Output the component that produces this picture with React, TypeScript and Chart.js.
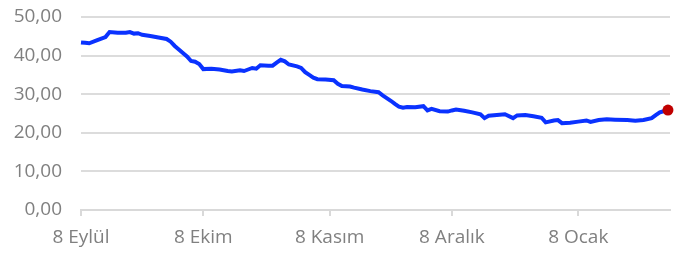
import React, { useEffect, useRef } from "react";
import { Chart, registerables } from "chart.js";

Chart.register(...registerables);

// days since 8 Eylül
const days = [0, 1, 2, 4, 6, 7, 9, 11, 12, 13, 14, 15, 17, 19, 21, 22, 23, 24, 25, 26, 27, 28, 29, 30, 32, 34, 36, 37, 39, 40, 41, 42, 43, 44, 46, 47, 48, 49, 50, 51, 53, 54, 55, 56, 57, 58, 60, 62, 63, 64, 66, 67, 69, 71, 73, 74, 75, 76, 77, 78, 79, 80, 82, 84, 85, 86, 88, 90, 91, 92, 94, 96, 98, 99, 100, 102, 104, 106, 107, 109, 111, 113, 114, 116, 117, 118, 120, 122, 124, 125, 127, 129, 131, 134, 136, 138, 140, 141, 142, 144];
const values = [43.4, 43.3, 43.2, 44.0, 44.8, 46.1, 45.9, 45.9, 46.1, 45.7, 45.8, 45.4, 45.1, 44.7, 44.3, 43.6, 42.5, 41.6, 40.7, 39.8, 38.6, 38.4, 37.8, 36.5, 36.6, 36.4, 36.0, 35.9, 36.2, 36.0, 36.4, 36.8, 36.6, 37.5, 37.4, 37.4, 38.2, 38.9, 38.5, 37.7, 37.2, 36.8, 35.7, 35.0, 34.3, 33.9, 33.8, 33.6, 32.7, 32.1, 32.0, 31.7, 31.2, 30.8, 30.5, 29.7, 29.0, 28.3, 27.5, 26.8, 26.5, 26.7, 26.6, 26.9, 25.8, 26.2, 25.6, 25.5, 25.8, 26.0, 25.7, 25.3, 24.8, 23.8, 24.4, 24.6, 24.8, 23.8, 24.5, 24.6, 24.3, 23.9, 22.7, 23.2, 23.3, 22.5, 22.6, 22.9, 23.2, 22.8, 23.3, 23.5, 23.4, 23.3, 23.1, 23.3, 23.8, 24.6, 25.3, 25.9];

const tickDays = [0, 30, 61, 91, 122];
const tickLabels = ["8 Eylül", "8 Ekim", "8 Kasım", "8 Aralık", "8 Ocak"];
const yTicks = [0, 10, 20, 30, 40, 50];

export default function App() {
  const ref = useRef<HTMLCanvasElement>(null);
  useEffect(() => {
    document.body.style.margin = "0";
    const last = days.length - 1;
    const chart = new Chart(ref.current!, {
      type: "line",
      data: {
        datasets: [
          {
            data: days.map((d, i) => ({ x: d, y: values[i] })),
            borderColor: "#0a32ff",
            borderWidth: 4,
            pointRadius: days.map((_, i) => (i === last ? 5.5 : 0)),
            pointBackgroundColor: "#c00000",
            pointBorderColor: "#c00000",
            pointBorderWidth: 0,
            tension: 0,
            clip: false,
          } as any,
        ],
      },
      options: {
        animation: false,
        responsive: false,
        maintainAspectRatio: false,
        layout: { padding: { top: 17, right: 21, left: 13, bottom: 0 } },
        plugins: { legend: { display: false }, tooltip: { enabled: false } },
        scales: {
          x: {
            type: "linear",
            min: 0,
            max: 144.5,
            afterBuildTicks: (axis: any) => {
              axis.ticks = tickDays.map((v) => ({ value: v }));
            },
            afterFit: (axis: any) => {
              axis.height = 43;
            },
            grid: {
              drawOnChartArea: false,
              drawTicks: true,
              tickLength: 6,
              color: "#d9d9d9",
              lineWidth: 2,
            },
            border: { color: "#d9d9d9", width: 2 },
            ticks: {
              autoSkip: false,
              maxRotation: 0,
              padding: 10,
              color: "#808080",
              font: { family: "'Open Sans'", size: 19 },
              callback: (v: any) => {
                const i = tickDays.indexOf(Number(v));
                return i >= 0 ? tickLabels[i] : "";
              },
            },
          },
          y: {
            min: 0,
            max: 50,
            afterBuildTicks: (axis: any) => {
              axis.ticks = yTicks.map((v) => ({ value: v }));
            },
            afterFit: (axis: any) => {
              axis.width = 68;
            },
            grid: {
              drawTicks: true,
              tickLength: 19,
              tickColor: "rgba(0,0,0,0)",
              color: "#dcdcdc",
              lineWidth: 2,
            },
            border: { display: false },
            ticks: {
              padding: 0,
              color: "#808080",
              font: { family: "'Open Sans'", size: 19 },
              callback: (v: any) => Number(v).toFixed(2).replace(".", ","),
            },
          },
        },
      },
    });
    return () => chart.destroy();
  }, []);
  return <canvas ref={ref} width={691} height={253} style={{ display: "block" }} />;
}
